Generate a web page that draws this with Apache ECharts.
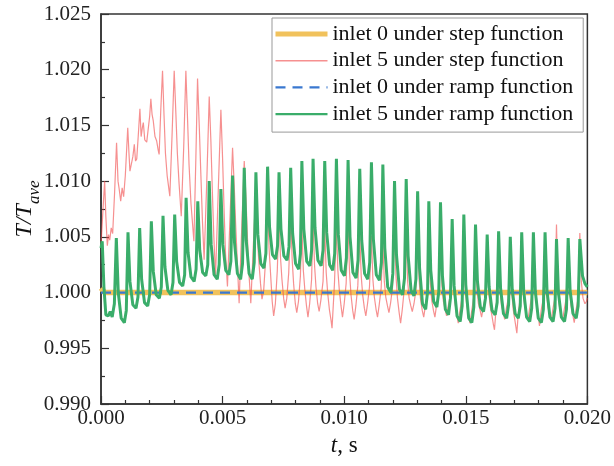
<!DOCTYPE html>
<html>
<head>
<meta charset="utf-8">
<script src="https://cdn.jsdelivr.net/npm/echarts@6/dist/echarts.min.js"></script>
<style>
html,body{margin:0;padding:0;background:#fff;}
#chart{width:614px;height:466px;}
</style>
</head>
<body>
<div id="chart"></div>
<script>
// ---- data (time in s, value T/Tave) ----
const seriesNames = ['inlet 0 under step function','inlet 5 under step function','inlet 0 under ramp function','inlet 5 under ramp function'];
const xTickLabels = ['0.000','0.005','0.010','0.015','0.020'];
const yTickLabels = ['0.990','0.995','1.000','1.005','1.010','1.015','1.020','1.025'];

const inlet0Step = [[0,1.0004],[0.00008,1.0003],[0.00015,1.0000],[0.02,1.0000]];
const inlet0Ramp = [[0,1.0000],[0.02,1.0000]];

const inlet5Step = [
[0,1.0042],[0.00007,1.0070],[0.00015,1.0100],[0.00020,1.0068],[0.00026,1.0042],[0.00031,1.0052],[0.00036,1.0047],[0.00042,1.0058],[0.00048,1.0053],[0.00056,1.0090],
[0.00064,1.01345],[0.00070,1.0100],[0.00075,1.00925],[0.00081,1.0082],[0.00087,1.0094],[0.00093,1.0086],[0.00100,1.0105],
[0.00110,1.0148],[0.00115,1.0125],[0.00119,1.0109],[0.00125,1.0108],[0.00131,1.0122],[0.00137,1.0133],[0.00142,1.0118],[0.00147,1.0120],[0.00153,1.0140],
[0.00160,1.0165],[0.00165,1.0140],[0.00170,1.0148],[0.00174,1.01525],[0.00180,1.0137],[0.00188,1.0135],[0.00194,1.0136],[0.00200,1.0158],
[0.00205,1.0174],[0.00210,1.0160],[0.00215,1.0154],[0.00222,1.0140],[0.00229,1.0136],[0.00235,1.0128],[0.00239,1.0124],[0.00246,1.0165],
[0.00253,1.0199],[0.00259,1.0160],[0.00265,1.0125],[0.00272,1.0105],[0.00283,1.00865],[0.00292,1.0140],
[0.00301,1.0199],[0.00308,1.0160],[0.00314,1.0125],[0.00321,1.0098],[0.00330,1.00685],[0.00340,1.0130],
[0.00349,1.0199],[0.00356,1.0155],[0.00362,1.0115],[0.00370,1.0080],[0.00382,1.0046],[0.00390,1.0120],
[0.00397,1.0192],[0.00404,1.0150],[0.00410,1.0110],[0.00417,1.0065],[0.00424,1.00295],[0.00435,1.0100],
[0.00445,1.0176],[0.00452,1.0135],[0.00458,1.0090],[0.00464,1.0050],[0.00471,1.00145],[0.00482,1.0090],
[0.00493,1.0164],[0.00500,1.0120],[0.00506,1.0075],[0.00512,1.0035],[0.00520,1.00055],[0.00531,1.0070],
[0.00541,1.0130],[0.00548,1.0095],[0.00554,1.0060],[0.00561,1.0025],[0.00568,0.99905],[0.00579,1.0060],
[0.00589,1.0118],[0.00596,1.0085],[0.00602,1.0050],[0.00609,1.0015],[0.00616,0.99905],[0.00626,1.0040],
[0.00637,1.0092],[0.00643,1.0050],[0.00649,1.0028],[0.00656,1.0008],[0.00662,0.9994],[0.00669,1.0002],[0.00677,1.0030],
[0.00685,1.0081],[0.00691,1.0040],[0.00697,1.0018],[0.00704,0.9992],[0.00710,0.9979],[0.00717,0.9990],[0.00725,1.0020],
[0.00732,1.0072],[0.00738,1.0032],[0.00744,1.0012],[0.00751,0.9995],[0.00757,0.9986],[0.00764,0.9995],[0.00772,1.0018],
[0.00780,1.0069],[0.00786,1.0030],[0.00792,1.0008],[0.00799,0.9990],[0.00805,0.9982],[0.00812,0.9992],[0.00820,1.0015],
[0.00826,1.0060],[0.00832,1.0020],[0.00838,1.0003],[0.00845,0.9988],[0.00851,0.9978],[0.00858,0.9990],[0.00866,1.0012],
[0.00872,1.0067],[0.00878,1.0025],[0.00884,1.0005],[0.00891,0.9990],[0.00897,0.9983],[0.00904,0.9993],[0.00913,1.0010],
[0.00920,1.0060],[0.00926,1.0018],[0.00932,1.0000],[0.00939,0.9985],[0.00946,0.9975],[0.00950,0.9968],[0.00960,1.0008],
[0.00968,1.0060],[0.00974,1.0020],[0.00980,1.0002],[0.00987,0.9988],[0.00993,0.9978],[0.01000,0.9990],[0.01008,1.0008],
[0.01016,1.0061],[0.01022,1.0018],[0.01028,0.9998],[0.01035,0.9984],[0.01041,0.9976],[0.01048,0.9988],[0.01056,1.0006],
[0.01064,1.0052],[0.01070,1.0015],[0.01076,0.9998],[0.01083,0.9986],[0.01089,0.9979],[0.01096,0.9990],[0.01104,1.0005],
[0.01112,1.0051],[0.01118,1.0012],[0.01124,0.9996],[0.01131,0.9985],[0.01137,0.9978],[0.01144,0.9989],[0.01152,1.0004],
[0.01159,1.0046],[0.01165,1.0010],[0.01171,0.9996],[0.01178,0.9988],[0.01184,0.9982],[0.01191,0.9991],[0.01199,1.0005],
[0.01207,1.0055],[0.01213,1.0015],[0.01219,0.9995],[0.01226,0.9982],[0.01232,0.99725],[0.01239,0.9985],[0.01247,1.0003],
[0.01255,1.0049],[0.01261,1.0010],[0.01267,0.9995],[0.01274,0.9988],[0.01280,0.9983],[0.01287,0.9990],[0.01295,1.0002],
[0.01302,1.0051],[0.01308,1.0012],[0.01314,0.9994],[0.01321,0.9984],[0.01327,0.9978],[0.01334,0.9988],[0.01342,1.0000],
[0.01348,1.0051],[0.01354,1.0010],[0.01360,0.9993],[0.01367,0.9984],[0.01373,0.9978],[0.01380,0.9989],[0.01388,0.9998],
[0.01396,1.0043],[0.01402,1.0006],[0.01408,0.9992],[0.01415,0.9985],[0.01421,0.9979],[0.01428,0.9988],[0.01436,0.9997],
[0.01444,1.0044],[0.01450,1.0005],[0.01456,0.9990],[0.01463,0.9980],[0.01469,0.99725],[0.01476,0.9984],[0.01484,0.9995],
[0.01492,1.0045],[0.01498,1.0004],[0.01504,0.9988],[0.01511,0.9980],[0.01517,0.99725],[0.01524,0.9983],[0.01532,0.9995],
[0.01540,1.0042],[0.01546,1.0003],[0.01552,0.9990],[0.01559,0.9984],[0.01565,0.9978],[0.01572,0.9987],[0.01580,0.9996],
[0.01588,1.0040],[0.01594,1.0002],[0.01600,0.9988],[0.01607,0.9980],[0.01613,0.9972],[0.01618,0.99666],[0.01627,0.9993],
[0.01635,1.0045],[0.01641,1.0003],[0.01647,0.9988],[0.01654,0.9982],[0.01660,0.9976],[0.01667,0.9986],[0.01675,0.9995],
[0.01683,1.0042],[0.01689,1.0000],[0.01695,0.9985],[0.01702,0.9975],[0.01710,0.99636],[0.01716,0.9982],[0.01723,0.9994],
[0.01730,1.0045],[0.01736,1.0002],[0.01742,0.9988],[0.01749,0.9980],[0.01755,0.9975],[0.01762,0.9985],[0.01770,0.9995],
[0.01778,1.0045],[0.01784,1.0003],[0.01790,0.9996],[0.01797,0.99965],[0.01803,0.9970],[0.01810,0.9984],[0.01818,0.9994],
[0.01826,1.0040],[0.01832,1.0000],[0.01838,0.9987],[0.01845,0.9980],[0.01851,0.9975],[0.01858,0.9985],[0.01866,0.9995],
[0.01873,1.0061],[0.01879,1.0005],[0.01885,0.9988],[0.01892,0.9980],[0.01898,0.9975],[0.01905,0.9985],[0.01913,0.9995],
[0.01921,1.0045],[0.01927,1.0002],[0.01933,0.9988],[0.01940,0.9980],[0.01946,0.9973],[0.01953,0.9984],[0.01961,0.9994],
[0.01969,1.00535],[0.01975,1.0010],[0.01982,0.9995],[0.01990,0.9990],[0.01996,0.9992],[0.02000,0.9995]
];

const inlet5Ramp = [
[0.00000,1.0040],[0.00005,1.0046],[0.00012,1.0005],[0.00020,0.9980],[0.00030,0.9979],[0.00038,0.9983],[0.00046,0.9978],[0.00055,0.9990],
[0.00063,1.0049],[0.00071,1.0000],[0.00083,0.9977],[0.00096,0.9973],[0.00104,0.9984],
[0.00111,1.0054],[0.00119,1.0010],[0.00131,0.9989],[0.00144,0.9986],[0.00152,0.9996],
[0.00159,1.0058],[0.00167,1.0012],[0.00179,0.9991],[0.00192,0.9988],[0.00200,0.9998],
[0.00207,1.0064],[0.00215,1.0019],[0.00227,0.9998],[0.00240,0.9995],[0.00248,1.0005],
[0.00255,1.0069],[0.00263,1.0023],[0.00275,1.0002],[0.00288,0.9998],[0.00296,1.0009],
[0.00303,1.0070],[0.00311,1.0028],[0.00323,1.0009],[0.00336,1.0006],[0.00344,1.0016],
[0.00350,1.0085],[0.00358,1.0036],[0.00370,1.0014],[0.00383,1.0010],[0.00391,1.0021],
[0.00398,1.0082],[0.00406,1.0038],[0.00418,1.0018],[0.00431,1.0015],[0.00439,1.0025],
[0.00445,1.0100],[0.00453,1.0043],[0.00465,1.0016],[0.00478,1.0012],[0.00486,1.0025],
[0.00493,1.0093],[0.00501,1.0043],[0.00513,1.0020],[0.00526,1.0016],[0.00534,1.0028],
[0.00541,1.0105],[0.00549,1.0045],[0.00561,1.0017],[0.00574,1.0012],[0.00582,1.0026],
[0.00589,1.0112],[0.00597,1.0047],[0.00609,1.0017],[0.00622,1.0012],[0.00630,1.0027],
[0.00637,1.0108],[0.00645,1.0052],[0.00657,1.0026],[0.00670,1.0022],[0.00678,1.0035],
[0.00685,1.0113],[0.00693,1.0059],[0.00705,1.0034],[0.00718,1.0030],[0.00726,1.0042],
[0.00732,1.0108],[0.00740,1.0057],[0.00752,1.0033],[0.00765,1.0029],[0.00773,1.0041],
[0.00780,1.0112],[0.00788,1.0053],[0.00800,1.0026],[0.00813,1.0021],[0.00820,1.0035],
[0.00826,1.0118],[0.00834,1.0057],[0.00846,1.0028],[0.00859,1.0024],[0.00866,1.0038],
[0.00872,1.0120],[0.00880,1.0058],[0.00892,1.0029],[0.00905,1.0024],[0.00913,1.0038],
[0.00920,1.0118],[0.00928,1.0054],[0.00940,1.0025],[0.00953,1.0020],[0.00961,1.0035],
[0.00968,1.0120],[0.00976,1.0052],[0.00988,1.0020],[0.01001,1.0015],[0.01009,1.0031],
[0.01016,1.0119],[0.01024,1.0050],[0.01036,1.0018],[0.01049,1.0013],[0.01057,1.0029],
[0.01064,1.0111],[0.01072,1.0047],[0.01084,1.0017],[0.01097,1.0012],[0.01105,1.0027],
[0.01112,1.0117],[0.01120,1.0048],[0.01132,1.0016],[0.01145,1.0011],[0.01153,1.0027],
[0.01159,1.0115],[0.01167,1.0040],[0.01179,1.0005],[0.01192,1.0000],[0.01200,1.0017],
[0.01207,1.0100],[0.01215,1.0034],[0.01227,1.0003],[0.01240,0.9998],[0.01248,1.0013],
[0.01255,1.0102],[0.01263,1.0033],[0.01275,1.0002],[0.01287,0.9997],[0.01295,1.0012],
[0.01302,1.0091],[0.01310,1.0022],[0.01322,0.9990],[0.01335,0.9985],[0.01343,1.0001],
[0.01348,1.0082],[0.01356,1.0020],[0.01368,0.9992],[0.01381,0.9987],[0.01389,1.0001],
[0.01396,1.0081],[0.01404,1.0015],[0.01416,0.9985],[0.01429,0.9980],[0.01437,0.9995],
[0.01444,1.0066],[0.01452,1.0006],[0.01464,0.9979],[0.01477,0.9974],[0.01485,0.9988],
[0.01492,1.0070],[0.01500,1.0007],[0.01512,0.9977],[0.01525,0.9973],[0.01533,0.9987],
[0.01540,1.0061],[0.01548,1.0010],[0.01560,0.9987],[0.01573,0.9983],[0.01581,0.9995],
[0.01588,1.0052],[0.01596,1.0005],[0.01608,0.9984],[0.01621,0.9980],[0.01629,0.9991],
[0.01635,1.0055],[0.01643,1.0004],[0.01655,0.9981],[0.01668,0.9977],[0.01676,0.9989],
[0.01683,1.0050],[0.01691,1.0003],[0.01703,0.9981],[0.01716,0.9977],[0.01724,0.9988],
[0.01730,1.0054],[0.01738,1.0002],[0.01750,0.9978],[0.01763,0.9974],[0.01771,0.9986],
[0.01778,1.0054],[0.01786,1.0001],[0.01798,0.9977],[0.01811,0.9973],[0.01819,0.9985],
[0.01826,1.0054],[0.01834,1.0002],[0.01846,0.9978],[0.01859,0.9974],[0.01867,0.9986],
[0.01873,1.0048],[0.01881,1.0000],[0.01893,0.9978],[0.01906,0.9974],[0.01914,0.9985],
[0.01921,1.0049],[0.01929,1.0002],[0.01941,0.9981],[0.01954,0.9977],[0.01962,0.9988],
[0.01969,1.0048],[0.01980,1.0015],[0.01990,1.0008],[0.02000,1.0005]
];

const FONT = 'Liberation Serif';
const COLORS = ['#F1C25C', 'rgba(240,70,70,0.6)', '#3A78D0', '#3AAD6A'];
const WIDTHS = [5.5, 1.2, 2.2, 3];
const chart = echarts.init(document.getElementById('chart'), null, {renderer: 'canvas'});
const axisCommon = {
  axisLine: {show: true, onZero: false, lineStyle: {color: '#333', width: 1.5}},
  axisTick: {show: true, inside: true, length: 8, lineStyle: {color: '#333', width: 1.2}},
  minorTick: {show: true, length: 4, lineStyle: {color: '#333', width: 1.2}},
  splitLine: {show: false},
  axisLabel: {fontFamily: FONT, fontSize: 21, color: '#222'}
};
chart.setOption({
  animation: false,
  backgroundColor: '#fff',
  grid: {left: 101, right: 26, top: 14, bottom: 62, show: true, borderColor: '#333', borderWidth: 1.5, backgroundColor: 'transparent'},
  xAxis: Object.assign({}, axisCommon, {
    type: 'value', min: 0, max: 0.02, interval: 0.005,
    minorTick: Object.assign({}, axisCommon.minorTick, {splitNumber: 5}),
    axisLabel: Object.assign({}, axisCommon.axisLabel, {margin: 4,
      formatter: v => xTickLabels[Math.round(v / 0.005)]}),
    name: '{i|t}{n|, s}', nameLocation: 'middle', nameGap: 30, nameMoveOverlap: false,
    nameTextStyle: {rich: {
      i: {fontFamily: FONT, fontStyle: 'italic', fontSize: 23, color: '#111'},
      n: {fontFamily: FONT, fontSize: 23, color: '#111'}
    }}
  }),
  yAxis: Object.assign({}, axisCommon, {
    type: 'value', min: 0.99, max: 1.025, interval: 0.005,
    minorTick: Object.assign({}, axisCommon.minorTick, {splitNumber: 2}),
    axisLabel: Object.assign({}, axisCommon.axisLabel, {margin: 10,
      formatter: v => yTickLabels[Math.round((v - 0.99) / 0.005)]}),
    name: '{a|T/T}{b|ave}', nameLocation: 'middle', nameGap: 58, nameRotate: 90, nameMoveOverlap: false,
    nameTextStyle: {rich: {
      a: {fontFamily: FONT, fontStyle: 'italic', fontSize: 24, color: '#111', verticalAlign: 'bottom', lineHeight: 28, padding: [0, 0, 6, 0]},
      b: {fontFamily: FONT, fontStyle: 'italic', fontSize: 17, color: '#111', verticalAlign: 'bottom', lineHeight: 28}
    }}
  }),
  legend: {
    orient: 'vertical', left: 272, top: 18,
    padding: [4, 10, 6, 1],
    itemWidth: 52, itemHeight: 14, itemGap: 2.7,
    backgroundColor: '#fff', borderColor: '#999', borderWidth: 1,
    itemStyle: {opacity: 0},
    textStyle: {fontFamily: FONT, fontSize: 22, color: '#111', lineHeight: 24},
    data: seriesNames.map((n, i) => ({name: n, itemStyle: {opacity: 0},
      lineStyle: {width: i === 0 ? 5 : (i === 1 ? 1.6 : 2.4), color: COLORS[i], type: i === 2 ? [10, 7] : 'solid'}}))
  },
  series: seriesNames.map((n, i) => ({
    name: n, type: 'line', data: [inlet0Step, inlet5Step, inlet0Ramp, inlet5Ramp][i],
    symbol: 'none', showSymbol: false, z: 2 + i,
    lineStyle: {color: COLORS[i], width: WIDTHS[i], type: i === 2 ? [10, 7] : 'solid'},
    itemStyle: {color: COLORS[i]}
  }))
});
</script>
</body>
</html>
